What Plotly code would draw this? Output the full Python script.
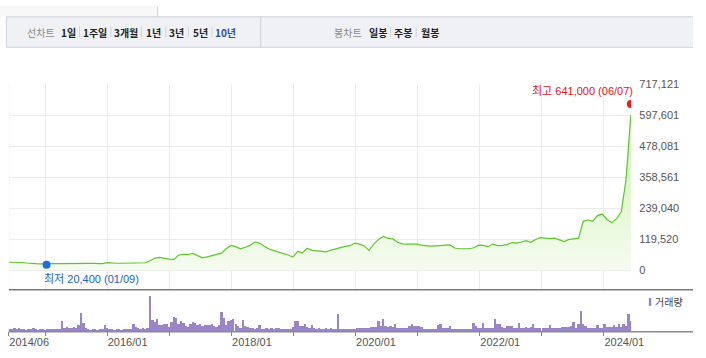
import pandas as pd
import plotly.graph_objects as go

# ---------------- data ----------------
price_values = [
    30000, 30000, 29500, 29000, 27000, 25000, 24500, 24000, 23500, 24000,
    24500, 25000, 25500, 26000, 25500, 26000, 27500, 25500, 25500, 25000,
    25000, 28500, 26500, 26000, 26000, 26500, 27000, 27000, 27500, 28000,
    36000, 46000, 49000, 44000, 42000, 41000, 58000, 60000, 60000, 64000,
    54000, 47000, 51000, 55000, 59000, 65000, 82000, 95000, 90000, 82000,
    88000, 95000, 108000, 104000, 92000, 81000, 75000, 70000, 63000, 58000,
    50000, 72000, 66000, 84000, 76000, 74000, 72000, 70000, 77000, 82000,
    88000, 91000, 94000, 104000, 100000, 93000, 76000, 100000, 118000, 130000,
    122000, 120000, 107000, 101000, 100000, 101000, 100000, 96000, 93000, 92000,
    93000, 94000, 95000, 97000, 85000, 82000, 82000, 82000, 86000, 96000,
    95000, 90000, 100000, 94000, 95000, 98000, 106000, 104000, 108000, 113000,
    107000, 118000, 125000, 122000, 121000, 123000, 117000, 110000, 118000, 119000,
    122000, 188000, 193000, 188000, 210000, 216000, 195000, 182000, 198000, 225000,
    350000, 598000,
]
price_dates = pd.date_range(end="2024-06-07", periods=len(price_values), freq="28D")

volume_values = [
    2, 2, 3, 2, 3, 2, 2, 1, 2, 2, 3, 2, 1, 2, 2, 1, 2, 2, 2, 2, 2,
    2, 10, 3, 4, 3, 3, 4, 3,
    6, 19, 8, 3,
    2, 1, 2, 2, 1, 2, 2, 6, 3,
    2, 2, 1, 2, 2, 1, 2, 2, 2,
    2, 7, 4, 3, 2, 3, 2, 3,
    36, 12, 9, 13, 6, 6, 7, 7, 4,
    9, 15, 14, 7, 10, 8, 5, 4, 7, 9, 8,
    6, 7, 5, 6, 6, 6, 7, 5, 4, 6,
    20, 14, 6, 10, 12, 13, 7, 5, 3, 12,
    5, 4, 3, 3, 2, 3, 6,
    2,
    2, 3, 2, 3, 2, 3, 3, 2, 2, 2, 2, 2, 4,
    10, 10, 5, 5, 7, 4, 3, 6,
    3, 2, 3, 2, 2, 3, 2, 3, 2, 2, 18,
    2, 2, 2, 2, 2, 2, 2,
    3, 3, 3, 3, 3, 3, 4, 4, 4, 10, 5, 13,
    5, 4, 5, 4, 7, 3, 3, 3, 3, 3, 5, 7, 5, 5, 5, 4,
    2, 2, 2, 2, 2, 2, 6, 7, 3, 3, 3, 5,
    2, 2, 2, 2, 2, 2, 2, 2, 2, 8, 5, 3, 3, 8,
    3, 3, 3, 3, 13, 7, 7, 4, 3, 5, 5, 5,
    3, 3, 8, 3, 3, 4, 3, 4, 7, 3, 3, 3, 3, 3,
    3, 6, 3, 3, 3, 3, 4, 4, 4, 4, 5, 9, 3, 7, 21, 7, 5,
    3, 3, 3, 3, 6, 3, 3, 7, 4, 4, 4, 6, 4, 7, 4, 7, 5, 18, 10,
]
volume_dates = pd.date_range(end="2024-06-07", periods=len(volume_values), freq="14D")

y_ticks = [0, 119520, 239040, 358561, 478081, 597601, 717121]
y_ticktext = ["0", "119,520", "239,040", "358,561", "478,081", "597,601", "717,121"]

grid_dates = ["2015-01-01", "2016-01-01", "2017-01-01", "2018-01-01", "2019-01-01",
              "2020-01-01", "2021-01-01", "2022-01-01", "2023-01-01", "2024-01-01"]
x_tick_dates = ["2014-06-01"] + grid_dates
x_tick_text = ["2014/06", "", "2016/01", "", "2018/01", "", "2020/01", "",
               "2022/01", "", "2024/01"]

high_date, high_value, high_label = "2024-06-07", 641000, "최고 641,000 (06/07)"
low_date, low_value, low_label = "2015-01-09", 20400, "최저 20,400 (01/09)"

line_tabs = ["1일", "1주일", "3개월", "1년", "3년", "5년", "10년"]
candle_tabs = ["일봉", "주봉", "월봉"]

# ---------------- geometry helpers (reference pixels -> paper) ----------------
W, H = 706, 358
def px(x):
    return x / W
def py(y):
    return 1 - y / H

X_START, X_END = "2014-06-01", "2024-06-09"
PLOT_L, PLOT_R = 9, 643

fig = go.Figure()

fig.add_trace(go.Scatter(
    x=price_dates, y=price_values, mode="lines",
    line=dict(color="#5cc62c", width=1.2),
    fill="tozeroy",
    fillgradient=dict(type="vertical",
                      colorscale=[[0, "#f6fcf1"], [1, "#c9f0a9"]],
                      start=0, stop=641000),
    xaxis="x", yaxis="y", showlegend=False, hoverinfo="skip",
))
fig.add_trace(go.Scatter(
    x=[high_date], y=[high_value], mode="markers",
    marker=dict(color="#f41a1a", size=8), xaxis="x", yaxis="y",
    showlegend=False, hoverinfo="skip",
))
fig.add_trace(go.Scatter(
    x=[low_date], y=[low_value], mode="markers",
    marker=dict(color="#1b6fe0", size=8), xaxis="x", yaxis="y",
    showlegend=False, hoverinfo="skip",
))
fig.add_trace(go.Bar(
    x=volume_dates, y=volume_values, marker=dict(color="#9a85c6", line=dict(width=0)),
    width=11 * 86400000, xaxis="x2", yaxis="y2", showlegend=False, hoverinfo="skip",
))

font_main = "Liberation Sans, Noto Sans CJK KR, sans-serif"

fig.update_layout(
    width=W, height=H, autosize=False, margin=dict(l=0, r=0, t=0, b=0),
    paper_bgcolor="white", plot_bgcolor="rgba(0,0,0,0)",
    font=dict(family=font_main, size=11, color="#555"),
    bargap=0,
    xaxis=dict(
        domain=[px(PLOT_L), px(PLOT_R)], range=[X_START, X_END], type="date",
        tickmode="array", tickvals=grid_dates, showticklabels=False,
        showgrid=True, gridcolor="#ebebeb", gridwidth=1, zeroline=False,
        showline=False, ticks="", anchor="y",
    ),
    yaxis=dict(
        domain=[py(288), py(79.5)], range=[-73990, 717400],
        side="right", tickmode="array", tickvals=y_ticks, ticktext=y_ticktext,
        showgrid=True, gridcolor="#ebebeb", gridwidth=1, zeroline=False,
        ticks="outside", ticklen=5, tickcolor="rgba(0,0,0,0)",
        tickfont=dict(size=11, color="#555"), anchor="x",
    ),
    xaxis2=dict(
        domain=[px(PLOT_L), px(PLOT_R)], range=[X_START, X_END], type="date",
        matches="x", anchor="y2",
        tickmode="array", tickvals=x_tick_dates, ticktext=x_tick_text,
        ticks="outside", ticklen=4, tickcolor="#888", tickwidth=1,
        ticklabelposition="outside right",
        tickfont=dict(size=11, color="#555"),
        showgrid=False, zeroline=False, showline=False,
    ),
    yaxis2=dict(
        domain=[py(331), py(289)], range=[0, 42], anchor="x2",
        showticklabels=False, showgrid=False, zeroline=False, ticks="",
    ),
)

shapes = []
shapes.append(dict(type="rect", xref="paper", yref="paper", x0=0, x1=px(160),
                   y0=py(11), y1=1, fillcolor="#f8f8f8", line=dict(width=0), layer="below"))
shapes.append(dict(type="line", xref="paper", yref="paper", x0=px(160.5), x1=px(160.5),
                   y0=py(11), y1=1, line=dict(color="#d6d6d6", width=1)))
shapes.append(dict(type="rect", xref="paper", yref="paper", x0=px(6.5), x1=1,
                   y0=py(42), y1=py(11), fillcolor="#eff1f5", line=dict(width=0), layer="below"))
for yy in [11, 42]:
    shapes.append(dict(type="line", xref="paper", yref="paper", x0=px(6.5), x1=1,
                       y0=py(yy), y1=py(yy), line=dict(color="#cdd0d6", width=1)))
for xx in [6.5, 265.5]:
    shapes.append(dict(type="line", xref="paper", yref="paper", x0=px(xx), x1=px(xx),
                       y0=py(42), y1=py(11), line=dict(color="#cdd0d6", width=1)))
for sx in [81, 113, 144, 169, 192, 216, 398, 424]:
    shapes.append(dict(type="line", xref="paper", yref="paper", x0=px(sx), x1=px(sx),
                       y0=py(32), y1=py(21), line=dict(color="#d2d4d8", width=1)))
shapes.append(dict(type="line", xref="x", yref="paper", x0=X_START, x1=X_START,
                   y0=py(288), y1=py(79.5), line=dict(color="#ebebeb", width=1), layer="below"))
shapes.append(dict(type="line", xref="paper", yref="paper", x0=px(PLOT_L), x1=1,
                   y0=py(288.5), y1=py(288.5), line=dict(color="#7a7a7a", width=1.5)))
shapes.append(dict(type="line", xref="paper", yref="paper", x0=px(PLOT_L), x1=1,
                   y0=py(331.3), y1=py(331.3), line=dict(color="#8a8a8a", width=1.5)))
shapes.append(dict(type="rect", xref="paper", yref="paper", x0=px(661), x1=px(663.5),
                   y0=py(305), y1=py(297), fillcolor="#9a85c6", line=dict(width=0)))

annotations = []
hy = py(26.5)
tab_font = "Noto Sans CJK KR"
annotations.append(dict(text="선차트", x=px(42), y=hy, xref="paper", yref="paper",
                        showarrow=False, xanchor="center", yanchor="middle",
                        font=dict(family=tab_font, size=10, color="#8a8a8a")))
tab_centers = [70, 97, 128.5, 156.5, 180, 204, 230]
for t, cx in zip(line_tabs, tab_centers):
    col = "#2b4ea6" if t == "10년" else "#222"
    annotations.append(dict(text="<b>" + t + "</b>", x=px(cx), y=hy, xref="paper", yref="paper",
                            showarrow=False, xanchor="center", yanchor="middle",
                            font=dict(family=tab_font, size=10, color=col)))
annotations.append(dict(text="봉차트", x=px(355), y=hy, xref="paper", yref="paper",
                        showarrow=False, xanchor="center", yanchor="middle",
                        font=dict(family=tab_font, size=10, color="#8a8a8a")))
for t, cx in zip(candle_tabs, [385, 410.5, 438]):
    annotations.append(dict(text="<b>" + t + "</b>", x=px(cx), y=hy, xref="paper", yref="paper",
                            showarrow=False, xanchor="center", yanchor="middle",
                            font=dict(family=tab_font, size=10, color="#222")))

annotations.append(dict(text=high_label, x=high_date, y=high_value, xref="x", yref="y",
                        showarrow=False, xanchor="right", yanchor="middle",
                        xshift=4, yshift=13, font=dict(size=11, color="#e8101a")))
annotations.append(dict(text=low_label, x=low_date, y=low_value, xref="x", yref="y",
                        showarrow=False, xanchor="left", yanchor="middle",
                        xshift=-5, yshift=-14, font=dict(size=11, color="#1a62cf")))
annotations.append(dict(text="거래량", x=px(665), y=py(301), xref="paper", yref="paper",
                        showarrow=False, xanchor="left", yanchor="middle",
                        font=dict(family=tab_font, size=10, color="#444")))

fig.update_layout(shapes=shapes, annotations=annotations)
fig.write_html(
    "out.html",
    config={"displayModeBar": False},
    post_script=(
        "var gd=document.getElementById('{plot_id}');"
        "var de=document.documentElement, b=document.body;"
        "de.style.margin='0';de.style.padding='0';de.style.overflow='hidden';"
        "b.style.margin='0';b.style.padding='0';b.style.overflow='hidden';"
        "gd.style.position='fixed';gd.style.left='0px';gd.style.top='0px';"
    ),
)
